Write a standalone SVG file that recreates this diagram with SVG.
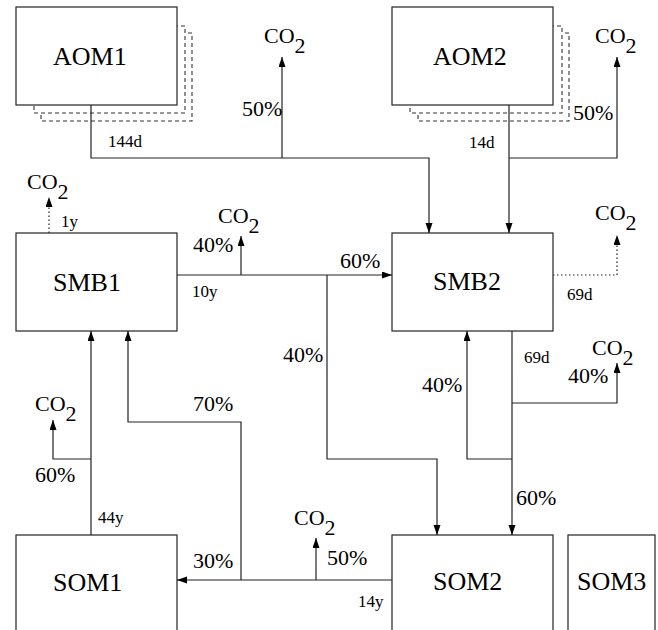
<svg xmlns="http://www.w3.org/2000/svg" width="658" height="630" viewBox="0 0 658 630">
<style>
.box{fill:#fff;stroke:#222;stroke-width:1.2}
.sh{fill:#fff;stroke:#333;stroke-width:1.1;stroke-dasharray:4 3}
.c{fill:none;stroke:#222;stroke-width:1.2}
.dot{stroke-dasharray:1.5 2.5}
.big{font-size:26px;fill:#000}
.med{font-size:22px;fill:#000}
.sm{font-size:17px;fill:#000}
</style>
<defs>
<marker id="ah" markerUnits="userSpaceOnUse" markerWidth="10" markerHeight="8" refX="10" refY="3.5" orient="auto">
<path d="M0,0 L10,3.5 L0,7 z" fill="#000"/>
</marker>
</defs>
<rect width="658" height="630" fill="#fff"/>
<g id="AOM1">
<rect class="sh" x="41" y="33" width="151" height="88"/>
<rect class="sh" x="34" y="26" width="151" height="87"/>
<rect class="box" x="16" y="7" width="161" height="98"/>
<text class="big" font-family="Liberation Serif" x="53" y="65">AOM1</text>
</g>
<g id="AOM2">
<rect class="sh" x="418" y="33" width="151" height="88"/>
<rect class="sh" x="410" y="26" width="152" height="87"/>
<rect class="box" x="392" y="7" width="161" height="98"/>
<text class="big" font-family="Liberation Serif" x="433" y="65">AOM2</text>
</g>
<g id="SMB1">
<rect class="box" x="16" y="233" width="161" height="98"/>
<text class="big" font-family="Liberation Serif" x="53" y="291">SMB1</text>
</g>
<g id="SMB2">
<rect class="box" x="392" y="233" width="161" height="98"/>
<text class="big" font-family="Liberation Serif" x="433" y="290">SMB2</text>
</g>
<g id="SOM1">
<rect class="box" x="16" y="535" width="161" height="110"/>
<text class="big" font-family="Liberation Serif" x="53" y="591">SOM1</text>
</g>
<g id="SOM2">
<rect class="box" x="392" y="535" width="161" height="110"/>
<text class="big" font-family="Liberation Serif" x="433" y="590">SOM2</text>
</g>
<g id="SOM3">
<rect class="box" x="568" y="535" width="87" height="110"/>
<text class="big" font-family="Liberation Serif" x="577" y="590">SOM3</text>
</g>
<g id="connectors">
<path class="c" d="M91,105 V158 H429 V233" marker-end="url(#ah)"/>
<path class="c" d="M282,158 V57" marker-end="url(#ah)"/>
<path class="c" d="M509,105 V233" marker-end="url(#ah)"/>
<path class="c" d="M509,158 H617 V57" marker-end="url(#ah)"/>
<path class="c dot" d="M49,233 V197" marker-end="url(#ah)"/>
<path class="c" d="M177,275 H392" marker-end="url(#ah)"/>
<path class="c" d="M241,275 V236" marker-end="url(#ah)"/>
<path class="c" d="M327,275 V459 H437 V535" marker-end="url(#ah)"/>
<path class="c dot" d="M553,275 H617 V235" marker-end="url(#ah)"/>
<path class="c" d="M512,331 V535" marker-end="url(#ah)"/>
<path class="c" d="M512,403 H617 V363" marker-end="url(#ah)"/>
<path class="c" d="M512,459 H467 V331" marker-end="url(#ah)"/>
<path class="c" d="M91,535 V331" marker-end="url(#ah)"/>
<path class="c" d="M91,459 H53 V420" marker-end="url(#ah)"/>
<path class="c" d="M392,580 H177" marker-end="url(#ah)"/>
<path class="c" d="M241,580 V422 H128 V331" marker-end="url(#ah)"/>
<path class="c" d="M316,580 V538" marker-end="url(#ah)"/>
</g>
<g id="labels">
<text class="med" font-family="Liberation Serif" x="264" y="43">CO<tspan dy="10">2</tspan></text>
<text class="med" font-family="Liberation Serif" x="242" y="116">50%</text>
<text class="sm" font-family="Liberation Serif" x="108" y="147">144d</text>
<text class="med" font-family="Liberation Serif" x="595" y="43">CO<tspan dy="10">2</tspan></text>
<text class="med" font-family="Liberation Serif" x="573" y="120">50%</text>
<text class="sm" font-family="Liberation Serif" x="469" y="148">14d</text>
<text class="med" font-family="Liberation Serif" x="27" y="189">CO<tspan dy="10">2</tspan></text>
<text class="sm" font-family="Liberation Serif" x="61" y="227">1y</text>
<text class="med" font-family="Liberation Serif" x="218" y="223">CO<tspan dy="10">2</tspan></text>
<text class="med" font-family="Liberation Serif" x="193" y="252">40%</text>
<text class="sm" font-family="Liberation Serif" x="192" y="297">10y</text>
<text class="med" font-family="Liberation Serif" x="340" y="268">60%</text>
<text class="med" font-family="Liberation Serif" x="595" y="220">CO<tspan dy="10">2</tspan></text>
<text class="sm" font-family="Liberation Serif" x="567" y="300">69d</text>
<text class="sm" font-family="Liberation Serif" x="524" y="363">69d</text>
<text class="med" font-family="Liberation Serif" x="592" y="355">CO<tspan dy="10">2</tspan></text>
<text class="med" font-family="Liberation Serif" x="568" y="383">40%</text>
<text class="med" font-family="Liberation Serif" x="422" y="392">40%</text>
<text class="med" font-family="Liberation Serif" x="516" y="505">60%</text>
<text class="med" font-family="Liberation Serif" x="283" y="362">40%</text>
<text class="med" font-family="Liberation Serif" x="35" y="411">CO<tspan dy="10">2</tspan></text>
<text class="med" font-family="Liberation Serif" x="35" y="482">60%</text>
<text class="sm" font-family="Liberation Serif" x="98" y="523">44y</text>
<text class="med" font-family="Liberation Serif" x="193" y="411">70%</text>
<text class="med" font-family="Liberation Serif" x="193" y="568">30%</text>
<text class="med" font-family="Liberation Serif" x="294" y="525">CO<tspan dy="10">2</tspan></text>
<text class="med" font-family="Liberation Serif" x="327" y="565">50%</text>
<text class="sm" font-family="Liberation Serif" x="358" y="607">14y</text>
</g>
</svg>
